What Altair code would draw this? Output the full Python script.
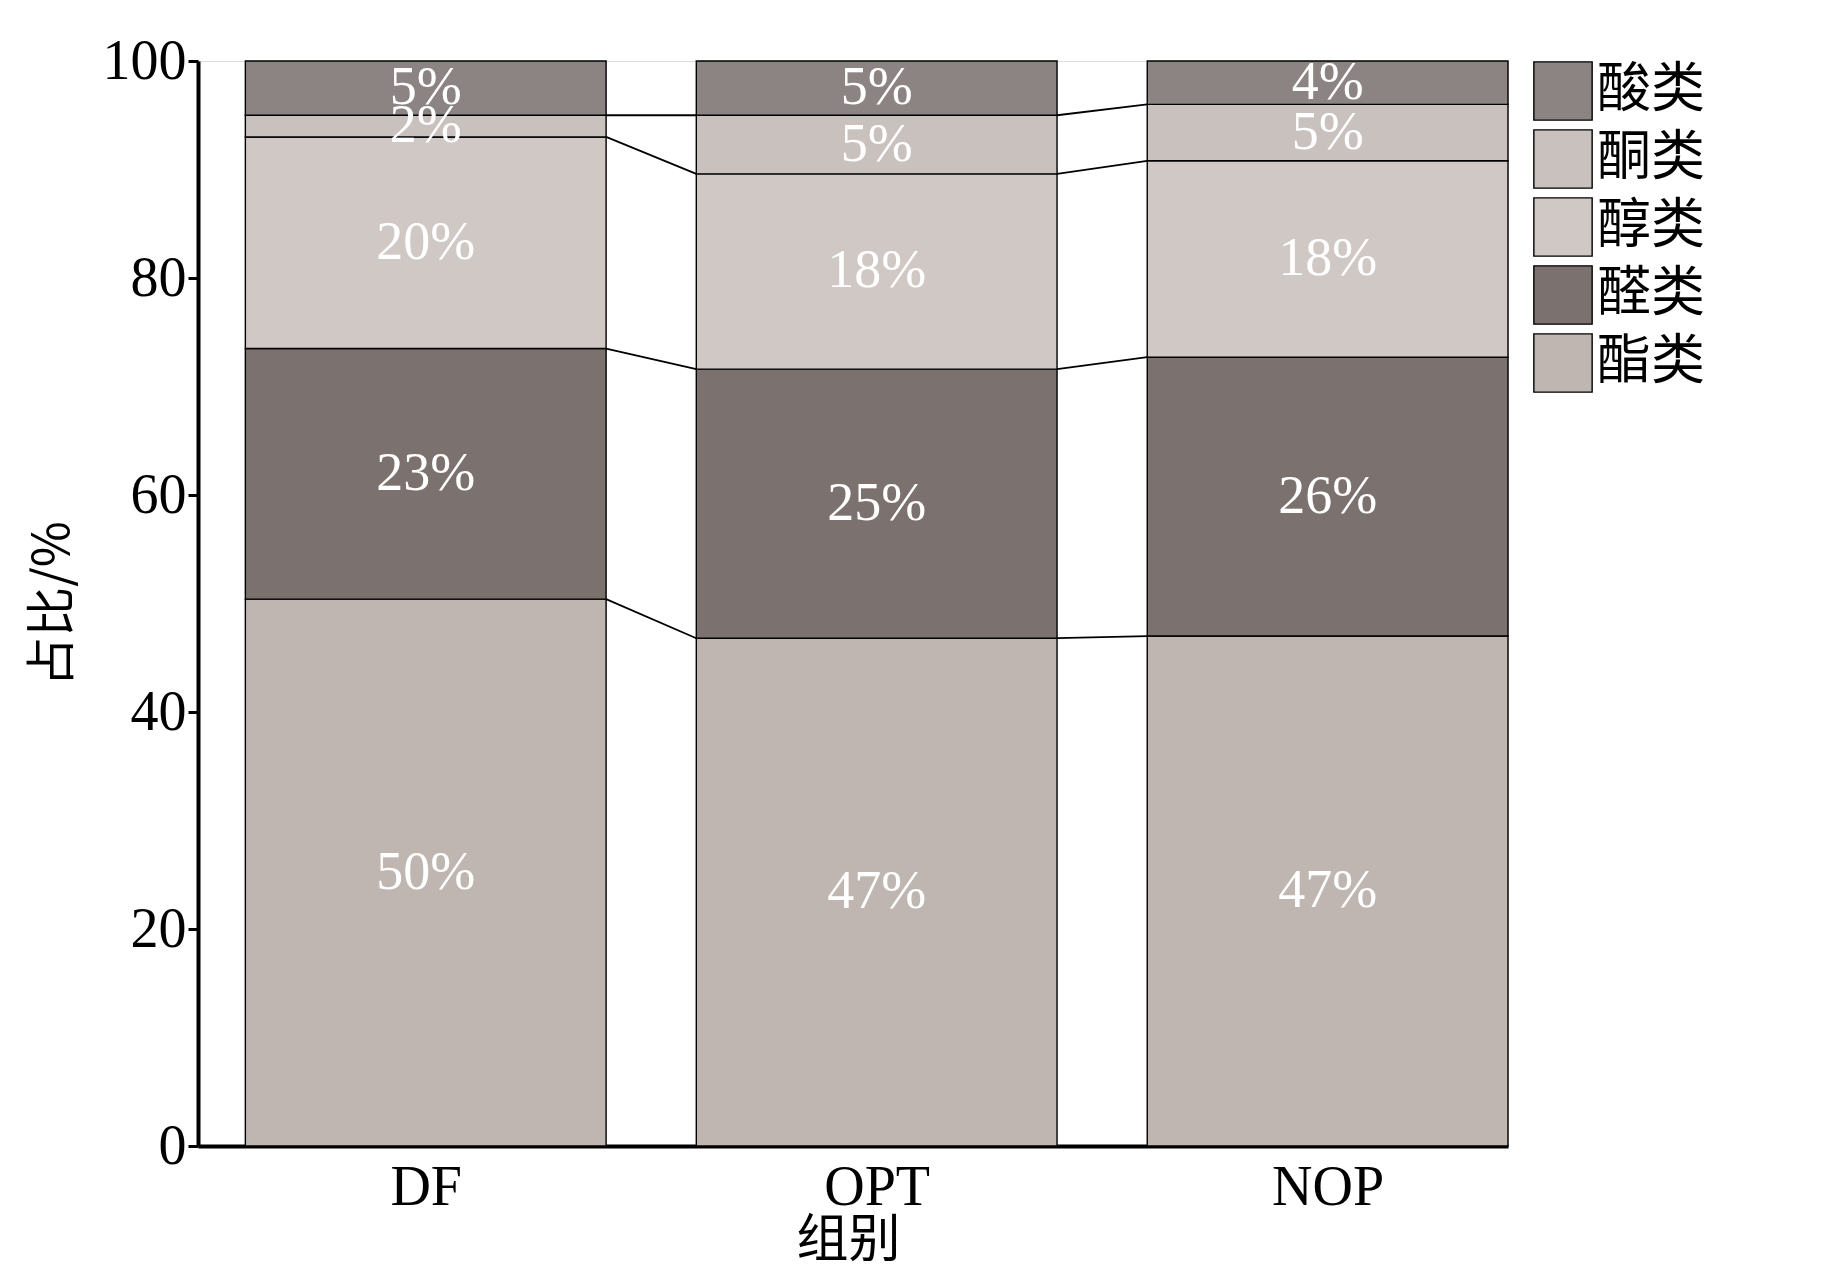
import altair as alt
import pandas as pd

groups = ["DF", "OPT", "NOP"]
classes = ["酯类", "醛类", "醇类", "酮类", "酸类"]  # bottom to top
# percentage share of each class per group
vals = {
    "DF":  [50.4, 23.1, 19.5, 2.0, 5.0],
    "OPT": [46.8, 24.8, 18.0, 5.4, 5.0],
    "NOP": [47.0, 25.7, 18.1, 5.2, 4.0],
}
labels = {
    "DF":  ["50%", "23%", "20%", "2%", "5%"],
    "OPT": ["47%", "25%", "18%", "5%", "5%"],
    "NOP": ["47%", "26%", "18%", "5%", "4%"],
}
colors = ["#bfb6b2", "#7b716e", "#cfc8c5", "#c9c1be", "#8c8482"]

rows = []
for i, g in enumerate(groups):
    cum = 0.0
    for c, v, lab in zip(classes, vals[g], labels[g]):
        rows.append(dict(group=g, pos=i, cls=c, y0=cum, y1=cum + v,
                         mid=cum + v / 2, lab=lab, x0=i - 0.4, x1=i + 0.4))
        cum += v
df = pd.DataFrame(rows)

# connector lines between neighbouring bars
links = []
for i in range(len(groups) - 1):
    a = df[df.pos == i].reset_index()
    b = df[df.pos == i + 1].reset_index()
    for k in range(len(classes) - 1):
        links.append(dict(xa=i + 0.4, xb=i + 0.6, ya=a.y1[k], yb=b.y1[k]))
ldf = pd.DataFrame(links)

xs = alt.Scale(domain=[-0.505, 2.4], nice=False, zero=False)
ys = alt.Scale(domain=[0, 100], nice=False)

bars = alt.Chart(df).mark_rect(stroke="black", strokeWidth=1.4).encode(
    x=alt.X("x0:Q", scale=xs, title="组别",
            axis=alt.Axis(values=[0, 1, 2], grid=False, ticks=False,
                          labelExpr="['DF','OPT','NOP'][datum.value]",
                          labelFont="Liberation Serif", labelFontSize=56,
                          titleFont="Noto Sans CJK SC", titleFontSize=52,
                          titleFontWeight="normal", labelPadding=14,
                          titlePadding=0, titleX=650,
                          domainWidth=4, domainColor="black", labelColor="black")),
    x2="x1:Q",
    y=alt.Y("y0:Q", scale=ys, title="占比/%",
            axis=alt.Axis(values=[0, 20, 40, 60, 80, 100], grid=False,
                          tickSize=10, tickWidth=3, tickColor="black",
                          labelFont="Liberation Serif", labelFontSize=56,
                          titleFont="Noto Sans CJK SC", titleFontSize=50,
                          titleFontWeight="normal", titlePadding=24,
                          domainWidth=4, domainColor="black", labelColor="black")),
    y2="y1:Q",
    fill=alt.Fill("cls:N", scale=alt.Scale(domain=classes[::-1], range=colors[::-1]),
                  legend=alt.Legend(title=None, symbolType="square", symbolSize=3400,
                                    symbolStrokeColor="black", symbolStrokeWidth=1.4,
                                    labelFont="Noto Sans CJK SC", labelFontSize=54,
                                    labelColor="black", rowPadding=4,
                                    orient="none", legendX=1335, legendY=0)),
)

lines = alt.Chart(ldf).mark_rule(color="black", strokeWidth=1.8).encode(
    x=alt.X("xa:Q", scale=xs), x2="xb:Q",
    y=alt.Y("ya:Q", scale=ys), y2="yb:Q",
)

text = alt.Chart(df).mark_text(color="white", font="Liberation Serif",
                               fontSize=54).encode(
    x=alt.X("pos:Q", scale=xs), y=alt.Y("mid:Q", scale=ys), text="lab:N",
)

chart = alt.layer(bars, lines, text).properties(
    width=1310, height=1085, padding={"left": 20, "top": 25, "right": 5, "bottom": 5}
).configure_view(stroke=None).configure(background="white")

chart.save("out.html", embed_options={"renderer": "svg", "actions": False})
